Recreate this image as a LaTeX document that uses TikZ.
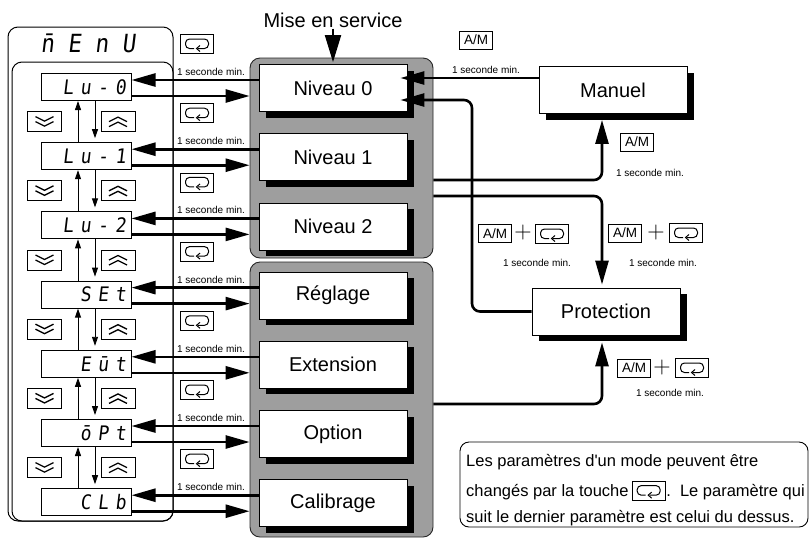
\documentclass[tikz,border=0pt]{standalone}
\usepackage{fontspec}
\newfontfamily\af{Liberation Sans}
\newfontfamily\seg[FakeSlant=0.12,FakeStretch=0.9]{DejaVu Sans Mono}
\usetikzlibrary{arrows.meta,shadows,calc}
\begin{document}
\begin{tikzpicture}[x=1pt,y=-1pt,
  panel/.style={draw=black!85, line width=0.9pt, fill=black!38, rounded corners=10pt, minimum width=183pt},
  lvl/.style={draw=black, line width=0.8pt, fill=white, minimum width=148pt, minimum height=47pt,
    font=\af\fontsize{20}{24}\selectfont,
    drop shadow={shadow xshift=7pt, shadow yshift=-6pt, opacity=1, fill=black}},
  disp/.style={draw, line width=1pt, fill=white, minimum width=90pt, minimum height=27pt,
    text width=80pt, align=right, inner sep=0pt, font=\seg\fontsize{20}{21}\selectfont},
  keybox/.style={draw, line width=0.8pt, fill=white, minimum width=33pt, minimum height=19pt, inner sep=0pt,
    path picture={\begin{scope}[shift={(path picture bounding box.center)}]
      \draw[line width=1pt, rounded corners=4pt] (-3pt,-4.5pt) -- (-11.5pt,-4.5pt) -- (-11.5pt,5pt)
        -- (11.5pt,5pt) -- (11.5pt,-4.5pt) -- (1pt,-4.5pt);
      \draw[line width=1pt] (3pt,-1.5pt) -- (-0.5pt,-4.5pt) -- (3pt,-7.5pt);
    \end{scope}}},
  chevdn/.style={draw, line width=0.8pt, fill=white, minimum width=34pt, minimum height=20pt, inner sep=0pt,
    path picture={\begin{scope}[shift={(path picture bounding box.center)}]
      \draw[line width=1.3pt] (-9pt,5pt) -- (0pt,0.5pt) -- (9pt,5pt) (-9pt,0pt) -- (0pt,-4.5pt) -- (9pt,0pt);
    \end{scope}}},
  chevup/.style={draw, line width=0.8pt, fill=white, minimum width=34pt, minimum height=20pt, inner sep=0pt,
    path picture={\begin{scope}[shift={(path picture bounding box.center)}]
      \draw[line width=1.3pt] (-9pt,-5pt) -- (0pt,-0.5pt) -- (9pt,-5pt) (-9pt,0pt) -- (0pt,4.5pt) -- (9pt,0pt);
    \end{scope}}},
  amkey/.style={draw, line width=0.8pt, fill=white, minimum width=33pt, minimum height=18pt, inner sep=0pt,
    font=\af\fontsize{13.5}{14}\selectfont},
  plus/.style={inner sep=0pt, font=\fontsize{24}{24}\selectfont},
  sec/.style={inner sep=0pt, font=\af\fontsize{10}{11}\selectfont},
  notetext/.style={inner sep=0pt, font=\af\fontsize{16.5}{18}\selectfont},
  bigarrow/.style={line width=2.6pt, -{Triangle[length=24pt, width=13pt]}},
  smallarrow/.style={line width=0.9pt, -{Triangle[length=9pt, width=6pt]}}
]
\fill[white] (0,0) rectangle (810,539);
\useasboundingbox (0,0) rectangle (810,539);

% MENU frame
\draw[line width=1pt, rounded corners=10pt] (8,27) rectangle (173,521);
\draw[line width=1pt, rounded corners=10pt] (12,62) rectangle (173,521);
\node[font=\seg\fontsize{25}{25}\selectfont] (menu) at (88,43) {n̄ E n U};

% panels
\node[panel, minimum height=200pt] (p1) at (341.5,158) {};
\node[panel, minimum height=275pt] (p2) at (341.5,399.5) {};

% level nodes
\node[lvl] (n0) at (333,88) {Niveau 0};
\node[lvl] (n1) at (333,157.2) {Niveau 1};
\node[lvl] (n2) at (333,226.4) {Niveau 2};
\node[lvl] (n3) at (333,295.6) {Réglage};
\node[lvl] (n4) at (333,364.8) {Extension};
\node[lvl] (n5) at (333,434) {Option};
\node[lvl] (n6) at (333,503.2) {Calibrage};

% displays
\node[disp] (l0) at (86,87) {L u - 0};
\node[disp] (l1) at (86,156.2) {L u - 1};
\node[disp] (l2) at (86,225.4) {L u - 2};
\node[disp] (l3) at (86,294.6) {S E t};
\node[disp] (l4) at (86,363.8) {E ū t};
\node[disp] (l5) at (86,433) {ō P t};
\node[disp] (l6) at (86,502.2) {C L b};

% right nodes
\node[lvl] (man) at (613,90) {Manuel};
\node[lvl] (prot) at (606,311.5) {Protection};

% mise en service
\node[font=\af\fontsize{20}{24}\selectfont, inner sep=1pt] (mise) at (333,20) {Mise en service};
\draw[line width=2pt, -{Triangle[length=27pt, width=16pt]}, shorten >=2pt] (mise.south) -- (n0.north);

% left connectors
\foreach \i in {0,...,6} {
  \draw[bigarrow] ([yshift=8pt]n\i.west) -- ([yshift=8pt]n\i.west -| l\i.east);
  \draw[bigarrow, shorten >=9pt] ([yshift=-8pt]n\i.west -| l\i.east) -- ([yshift=-8pt]n\i.west);
  \node[keybox] (kk\i) at ($(l\i.center)+(111,-43)$) {};
  \node[sec] (ss\i) at ($(l\i.center)+(125,-15)$) {1 seconde min.};
}
\foreach \i [count=\j] in {0,...,5} {
  \draw[smallarrow] ([xshift=-8pt]l\j.north) -- ([xshift=-8pt]l\i.south);
  \draw[smallarrow, shorten >=4pt] ([xshift=9pt]l\i.south) -- ([xshift=9pt]l\j.north);
  \node[chevdn] (cd\i) at ($(l\i.south)!0.5!(l\j.north)+(-41.5,0)$) {};
  \node[chevup] (cu\i) at ($(l\i.south)!0.5!(l\j.north)+(32,0)$) {};
}

% right connectors
\coordinate (bend) at (472,100);
\draw[bigarrow, shorten >=-7pt] ([yshift=12pt]man.west) -- ([yshift=12pt]man.west -| n0.east);
\draw[bigarrow, rounded corners=8pt, shorten >=-7pt] (prot.west) -| (bend) -- (bend -| n0.east);
\draw[bigarrow, rounded corners=8pt] ([yshift=-22pt]p1.east) -| ([xshift=-11pt,yshift=-6pt]man.south);
\draw[bigarrow, rounded corners=8pt, shorten >=3pt] ([yshift=-38pt]p1.east) -| ([xshift=-4pt]prot.north);
\draw[bigarrow, rounded corners=8pt] ([yshift=-4.5pt]p2.east) -| ([xshift=-4pt,yshift=-7pt]prot.south);

% key labels on right
\node[amkey] (am1) at (476,40) {A/M};
\node[sec] (sa1) at (486,70) {1 seconde min.};
\node[amkey] (am2) at (637,142) {A/M};
\node[sec] (sa2) at (650,173) {1 seconde min.};
\node[amkey] (am3) at (495,233.5) {A/M};
\node[plus] (pl3) at (523,233) {+};
\node[keybox] (k3) at (552,234) {};
\node[sec] (sa3) at (537,263) {1 seconde min.};
\node[amkey] (am4) at (625,233) {A/M};
\node[plus] (pl4) at (656,233) {+};
\node[keybox] (k4) at (686,233) {};
\node[sec] (sa4) at (663,263) {1 seconde min.};
\node[amkey] (am5) at (634,368) {A/M};
\node[plus] (pl5) at (662,368) {+};
\node[keybox] (k5) at (692,368) {};
\node[sec] (sa5) at (670,393) {1 seconde min.};

% note box
\node[draw, line width=0.9pt, rounded corners=9pt, minimum width=348pt, minimum height=85pt] (note) at (634,484.5) {};
\node[notetext, anchor=base west] (t1) at (466,466) {Les paramètres d'un mode peuvent être};
\node[notetext, anchor=base west] (t2) at (466,496) {changés par la touche};
\node[keybox, anchor=west] (tk) at ([xshift=3pt,yshift=1pt]t2.east) {};
\node[notetext, anchor=base west] (t2b) at ([xshift=0.5pt]tk.east |- t2.base) {.\ \ Le paramètre qui};
\node[notetext, anchor=base west] (t3) at (466,522) {suit le dernier paramètre est celui du dessus.};
\end{tikzpicture}
\end{document}
